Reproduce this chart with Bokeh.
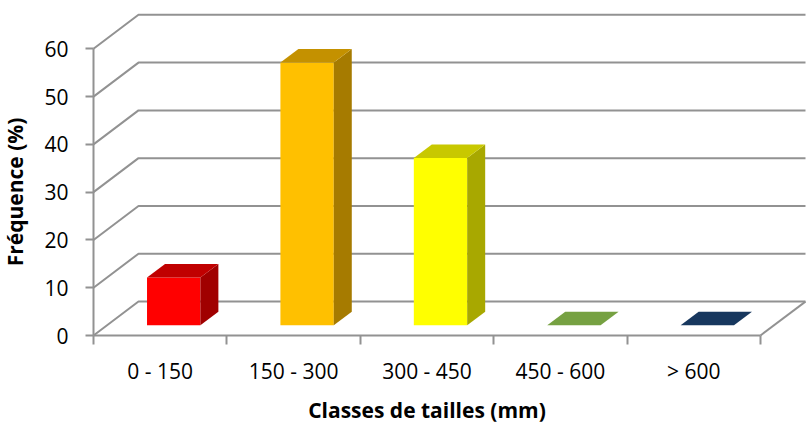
from bokeh.plotting import figure
from bokeh.models import Range1d, FixedTicker, ColumnDataSource
from bokeh.embed import file_html
from bokeh.resources import INLINE

# ---- data ----
categories = ["0 - 150", "150 - 300", "300 - 450", "450 - 600", "> 600"]
frequencies = [10, 55, 35, 0, 0]
y_ticks = [0, 10, 20, 30, 40, 50, 60]
front_colors = ["#FF0000", "#FFC000", "#FFFF00", "#76A142", "#17375E"]
top_colors = ["#C00000", "#C49100", "#C8C800", "#76A142", "#17375E"]
side_colors = ["#A00000", "#A67B00", "#A8A800", "#5E8234", "#10294A"]

# ---- 3D projection / view geometry ----
PX_X = 133.4          # pixels per category
PX_Y = 4.778          # pixels per percent
DX = 45 / PX_X        # depth offset (x, data units)
DY = 34 / PX_Y        # depth offset (y, data units)
BAR_W = 0.4
Z0, Z1 = 0.3, 0.7
GRID = "#929292"
FONT = "Open Sans"
n = len(categories)

W, H = 806, 425
ORIG_X, ORIG_Y = 93, 335   # position of the (0, 0) corner inside the canvas

p = figure(width=W, height=H,
           x_range=Range1d(-ORIG_X / PX_X, (W - ORIG_X) / PX_X),
           y_range=Range1d(-(H - ORIG_Y) / PX_Y, ORIG_Y / PX_Y),
           output_backend="svg", toolbar_location=None,
           min_border=0, min_border_left=0, min_border_right=0,
           min_border_top=0, min_border_bottom=0)
p.outline_line_color = None
p.grid.visible = False
p.background_fill_color = "white"
p.border_fill_color = "white"

# walls / floor lines
gx, gy = [], []
for t in y_ticks:
    gx.append([0, DX, n + DX])
    gy.append([t, t + DY, t + DY])
gx.append([n, n + DX])
gy.append([0, DY])
p.multi_line(gx, gy, line_color=GRID, line_width=2)

# bars
fx, fy, fc = [], [], []
for i, v in enumerate(frequencies):
    cx = i + 0.5
    x0, x1 = cx - BAR_W / 2, cx + BAR_W / 2
    fx.append([x0 + Z0 * DX, x1 + Z0 * DX, x1 + Z0 * DX, x0 + Z0 * DX])
    fy.append([Z0 * DY, Z0 * DY, v + Z0 * DY, v + Z0 * DY])
    fc.append(front_colors[i])
    fx.append([x1 + Z0 * DX, x1 + Z1 * DX, x1 + Z1 * DX, x1 + Z0 * DX])
    fy.append([Z0 * DY, Z1 * DY, v + Z1 * DY, v + Z0 * DY])
    fc.append(side_colors[i])
    fx.append([x0 + Z0 * DX, x1 + Z0 * DX, x1 + Z1 * DX, x0 + Z1 * DX])
    fy.append([v + Z0 * DY, v + Z0 * DY, v + Z1 * DY, v + Z1 * DY])
    fc.append(top_colors[i])
p.patches(xs="xs", ys="ys", fill_color="c", line_color=None,
          source=ColumnDataSource(dict(xs=fx, ys=fy, c=fc)))

# y axis
ya = p.yaxis[0]
ya.fixed_location = 0
ya.ticker = FixedTicker(ticks=y_ticks, minor_ticks=[])
ya.bounds = (0, 60)
ya.axis_line_color = GRID
ya.axis_line_width = 2
ya.major_tick_line_color = GRID
ya.major_tick_line_width = 2
ya.major_tick_out = 8
ya.major_tick_in = 0
ya.major_label_standoff = 17
ya.major_label_text_font = FONT
ya.major_label_text_font_size = "21px"
ya.major_label_text_color = "black"
ya.axis_label = "Fréquence (%)"
ya.axis_label_text_font = FONT
ya.axis_label_text_font_style = "bold"
ya.axis_label_text_font_size = "21px"
ya.axis_label_text_color = "black"
ya.axis_label_standoff = 12

# x axis
xa = p.xaxis[0]
xa.fixed_location = 0
xa.ticker = FixedTicker(ticks=[i + 0.5 for i in range(n)], minor_ticks=list(range(n + 1)))
xa.major_label_overrides = {i + 0.5: c for i, c in enumerate(categories)}
xa.bounds = (0, n)
xa.axis_line_color = GRID
xa.axis_line_width = 2
xa.major_tick_out = 0
xa.major_tick_in = 0
xa.minor_tick_out = 9
xa.minor_tick_in = 0
xa.minor_tick_line_color = GRID
xa.minor_tick_line_width = 2
xa.major_label_standoff = 12
xa.major_label_text_font = FONT
xa.major_label_text_font_size = "21px"
xa.major_label_text_color = "black"
xa.axis_label = "Classes de tailles (mm)"
xa.axis_label_text_font = FONT
xa.axis_label_text_font_style = "bold"
xa.axis_label_text_font_size = "21px"
xa.axis_label_text_color = "black"
xa.axis_label_standoff = 8

open("out.html", "w").write(file_html(p, INLINE))
